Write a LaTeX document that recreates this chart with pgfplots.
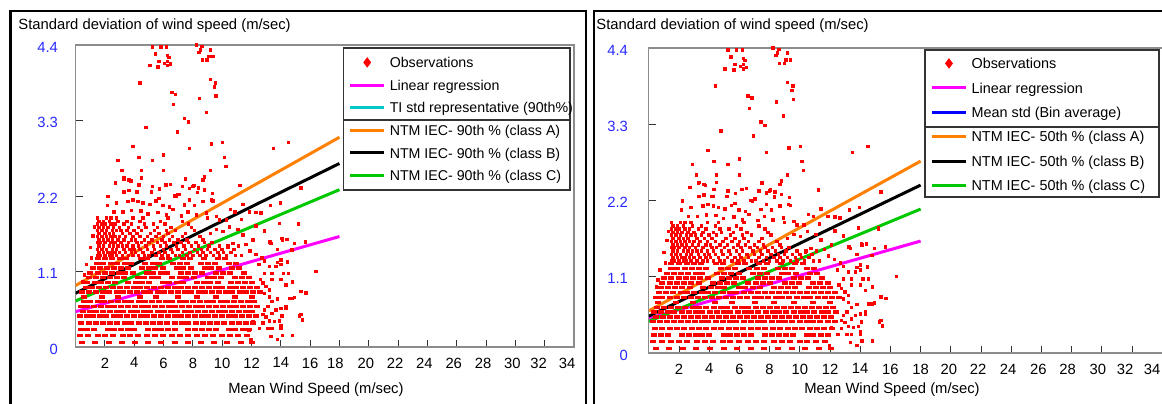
\documentclass[border=0pt]{standalone}
\usepackage{pgfplots}
\pgfplotsset{compat=1.18}
\usepackage{pgfplotstable}
\usepackage{fontspec}
\setmainfont{Liberation Sans}

\definecolor{ntmA}{RGB}{255,128,0}
\definecolor{ntmC}{RGB}{0,200,0}
\definecolor{regr}{RGB}{255,0,255}
\definecolor{obsred}{RGB}{255,0,0}
\definecolor{tickblue}{RGB}{40,40,255}
\definecolor{tiline}{RGB}{0,200,200}
\definecolor{binblue}{RGB}{0,0,255}

% observations drawn as short dashes (quantised rows at low std)
\pgfplotstableread[row sep=\\]{x y\\
0.45 .07\\1.35 .07\\2.25 .07\\3.15 .07\\4.05 .07\\4.95 .07\\5.85 .07\\6.75 .07\\7.65 .07\\8.55 .07\\9.45 .07\\10.35 .07\\11.25 .07\\12.05 .07\\
0.3 .17\\0.85 .17\\1.5 .17\\2.0 .17\\2.55 .17\\3.2 .17\\3.7 .17\\4.25 .17\\4.9 .17\\5.4 .17\\5.95 .17\\6.6 .17\\7.1 .17\\7.65 .17\\8.3 .17\\8.8 .17\\9.35 .17\\10.0 .17\\10.5 .17\\11.05 .17\\11.7 .17\\
0.35 .26\\0.8 .26\\1.25 .26\\2.2 .26\\2.65 .26\\3.1 .26\\3.55 .26\\4.0 .26\\4.95 .26\\5.4 .26\\5.85 .26\\6.3 .26\\6.8 .26\\7.7 .26\\8.15 .26\\8.6 .26\\9.1 .26\\9.55 .26\\10.45 .26\\10.9 .26\\11.4 .26\\11.85 .26\\
0.4 .35\\0.9 .35\\1.4 .35\\1.85 .35\\2.35 .35\\2.85 .35\\3.35 .35\\3.8 .35\\4.3 .35\\4.8 .35\\5.3 .35\\5.75 .35\\6.25 .35\\6.75 .35\\7.25 .35\\7.7 .35\\8.2 .35\\8.7 .35\\9.2 .35\\9.65 .35\\10.15 .35\\10.65 .35\\11.15 .35\\11.6 .35\\12.1 .35\\
0.3 .45\\0.75 .45\\1.2 .45\\1.65 .45\\2.1 .45\\2.6 .45\\3.05 .45\\3.5 .45\\3.95 .45\\4.45 .45\\4.9 .45\\5.35 .45\\5.8 .45\\6.3 .45\\6.75 .45\\7.2 .45\\7.65 .45\\8.15 .45\\8.6 .45\\9.05 .45\\9.5 .45\\10.0 .45\\10.45 .45\\10.9 .45\\11.35 .45\\11.85 .45\\12.3 .45\\
0.5 .52\\0.95 .52\\1.4 .52\\1.9 .52\\2.35 .52\\2.8 .52\\3.25 .52\\3.75 .52\\4.2 .52\\4.65 .52\\5.1 .52\\5.6 .52\\6.05 .52\\6.5 .52\\6.95 .52\\7.45 .52\\7.9 .52\\8.35 .52\\8.8 .52\\9.3 .52\\9.75 .52\\10.2 .52\\10.65 .52\\11.15 .52\\11.6 .52\\12.05 .52\\
0.35 .59\\0.8 .59\\1.25 .59\\1.7 .59\\2.2 .59\\2.65 .59\\3.1 .59\\3.55 .59\\4.05 .59\\4.5 .59\\4.95 .59\\5.4 .59\\5.9 .59\\6.35 .59\\6.8 .59\\7.25 .59\\7.75 .59\\8.2 .59\\8.65 .59\\9.1 .59\\9.6 .59\\10.05 .59\\10.5 .59\\10.95 .59\\11.45 .59\\11.9 .59\\12.4 .59\\
0.55 .66\\1.0 .66\\1.5 .66\\1.95 .66\\2.4 .66\\2.9 .66\\3.35 .66\\3.8 .66\\4.3 .66\\4.75 .66\\5.2 .66\\5.7 .66\\6.15 .66\\6.6 .66\\7.1 .66\\7.55 .66\\8.0 .66\\8.5 .66\\8.95 .66\\9.4 .66\\9.9 .66\\10.35 .66\\10.8 .66\\11.3 .66\\11.75 .66\\12.2 .66\\
0.6 .73\\1.8 .73\\2.9 .73\\4.4 .73\\5.5 .73\\7.0 .73\\8.3 .73\\9.6 .73\\10.9 .73\\12.0 .73\\
0.45 .80\\0.9 .80\\1.4 .80\\1.85 .80\\2.3 .80\\2.8 .80\\3.25 .80\\3.7 .80\\4.2 .80\\4.65 .80\\5.1 .80\\5.6 .80\\6.05 .80\\6.5 .80\\7.0 .80\\7.45 .80\\7.9 .80\\8.4 .80\\8.85 .80\\9.3 .80\\9.8 .80\\10.25 .80\\10.7 .80\\11.2 .80\\11.65 .80\\12.1 .80\\12.6 .80\\
0.7 .87\\1.15 .87\\1.6 .87\\2.1 .87\\2.55 .87\\3.0 .87\\3.5 .87\\3.95 .87\\4.4 .87\\4.9 .87\\5.35 .87\\5.8 .87\\6.3 .87\\6.75 .87\\7.2 .87\\7.7 .87\\8.15 .87\\8.6 .87\\9.1 .87\\9.55 .87\\10.0 .87\\10.5 .87\\10.95 .87\\11.4 .87\\11.9 .87\\12.35 .87\\
0.8 .94\\1.3 .94\\1.75 .94\\2.2 .94\\2.7 .94\\3.6 .94\\4.1 .94\\4.55 .94\\5.0 .94\\5.95 .94\\6.4 .94\\6.9 .94\\7.35 .94\\8.3 .94\\8.75 .94\\9.2 .94\\9.7 .94\\10.6 .94\\11.1 .94\\11.55 .94\\12.0 .94\\
0.9 1.01\\1.4 1.01\\1.85 1.01\\2.35 1.01\\2.8 1.01\\3.3 1.01\\4.25 1.01\\4.7 1.01\\5.2 1.01\\5.65 1.01\\6.6 1.01\\7.1 1.01\\7.55 1.01\\8.05 1.01\\9.0 1.01\\9.45 1.01\\9.95 1.01\\10.9 1.01\\11.35 1.01\\11.85 1.01\\
1.0 1.08\\1.5 1.08\\2.0 1.08\\2.45 1.08\\2.95 1.08\\3.4 1.08\\3.9 1.08\\4.85 1.08\\5.3 1.08\\5.8 1.08\\6.25 1.08\\7.2 1.08\\7.7 1.08\\8.15 1.08\\8.65 1.08\\9.6 1.08\\10.05 1.08\\10.55 1.08\\11.5 1.08\\
1.2 1.15\\1.65 1.15\\2.15 1.15\\2.6 1.15\\3.1 1.15\\3.55 1.15\\4.5 1.15\\5.0 1.15\\5.45 1.15\\5.95 1.15\\6.9 1.15\\7.35 1.15\\7.85 1.15\\8.8 1.15\\9.25 1.15\\9.75 1.15\\10.7 1.15\\11.15 1.15\\
1.45 1.22\\1.9 1.22\\2.4 1.22\\2.85 1.22\\3.35 1.22\\3.8 1.22\\4.75 1.22\\5.25 1.22\\5.7 1.22\\6.65 1.22\\7.15 1.22\\7.6 1.22\\8.55 1.22\\9.05 1.22\\9.5 1.22\\10.45 1.22\\10.95 1.22\\
1.5 1.29\\2.0 1.29\\2.5 1.29\\3.0 1.29\\3.45 1.29\\4.45 1.29\\4.9 1.29\\5.9 1.29\\6.35 1.29\\7.3 1.29\\7.8 1.29\\8.75 1.29\\9.7 1.29\\10.2 1.29\\
}\obsdash

% observations drawn as single dots
\pgfplotstableread[row sep=\\]{x y\\
5.24 4.37\\5.81 4.37\\6.2 4.37\\8.24 4.4\\8.62 4.38\\8.51 4.33\\8.42 4.29\\9.19 4.33\\5.45 4.27\\6.26 4.25\\6.38 4.22\\9.1 4.23\\9.37 4.23\\8.64 4.18\\8.98 4.18\\5.7 4.16\\6.26 4.16\\6.08 4.13\\6.47 4.12\\6.26 4.1\\5.06 4.1\\5.63 4.08\\
4.4 3.85\\9.19 3.9\\9.55 3.85\\9.48 3.79\\6.58 3.71\\6.83 3.68\\9.57 3.66\\8.44 3.62\\6.67 3.53\\8.92 3.42\\7.42 3.33\\7.71 3.28\\4.79 3.2\\6.94 3.13\\
3.93 2.92\\7.78 2.89\\9.28 2.96\\10.03 2.98\\13.5 2.89\\14.52 2.98\\4.31 2.76\\6.01 2.8\\10.14 2.76\\2.89 2.72\\5.24 2.72\\5.99 2.57\\10.25 2.63\\9.19 2.57\\3.16 2.57\\4.5 2.57\\
3.31 2.46\\2.73 2.39\\4.5 2.46\\4.31 2.36\\3.65 2.43\\3.29 2.45\\3.77 2.42\\4.2 2.26\\5.24 2.34\\6.17 2.36\\6.47 2.37\\7.49 2.45\\7.29 2.34\\7.78 2.31\\8.0 2.34\\8.07 2.35\\8.37 2.32\\8.69 2.43\\8.8 2.48\\6.78 2.2\\7.05 2.22\\11.23 2.35\\15.38 2.32\\2.22 2.19\\3.31 2.26\\3.65 2.28\\4.24 2.26\\5.17 2.26\\5.74 2.3\\6.99 2.22\\8.33 2.25\\8.8 2.29\\9.33 2.24\\9.26 2.14\\
2.8 2.1\\2.16 2.06\\3.59 2.12\\3.93 2.14\\4.27 2.12\\4.61 2.1\\5.06 2.08\\5.47 2.13\\5.7 2.16\\5.97 2.06\\6.42 2.04\\6.88 2.19\\7.44 2.07\\7.78 2.14\\8.12 2.06\\8.69 2.12\\9.37 2.13\\11.41 2.08\\13.29 2.06\\13.97 2.1\\
2.63 1.97\\3.24 1.97\\3.81 1.99\\4.45 1.98\\4.95 1.94\\5.63 1.96\\6.2 1.92\\6.65 2.0\\7.22 1.91\\7.67 1.97\\8.24 1.92\\8.92 1.95\\9.6 1.9\\10.57 2.0\\10.89 1.97\\11.86 1.97\\12.32 1.96\\12.66 1.95\\
9.82 1.85\\10.28 1.85\\11.3 1.86\\12.32 1.76\\12.88 1.69\\13.9 1.8\\15.22 1.8\\13.27 1.53\\14.09 1.58\\14.43 1.57\\15.67 1.53\\12.09 1.56\\11.41 1.63\\11.07 1.71\\10.5 1.75\\10.05 1.68\\9.6 1.71\\10.73 1.51\\11.64 1.49\\10.39 1.46\\14.13 1.56\\15.2 1.79\\14.77 1.41\\13.34 1.51\\13.79 1.42\\14.93 1.51\\
16.4 1.1\\15.38 0.81\\15.72 0.79\\14.81 0.71\\15.38 0.47\\15.49 0.39\\14.81 0.17\\14.13 0.17\\14.02 0.27\\14.36 0.59\\14.36 0.9\\14.02 0.98\\13.68 1.17\\14.02 1.27\\14.47 1.24\\13.41 1.07\\13.0 0.88\\13.22 0.73\\13.41 0.49\\13.56 0.37\\13.41 0.27\\13.34 0.15\\12.88 0.54\\13.0 0.44\\12.77 0.35\\
14.54 1.07\\14.18 1.07\\14.81 0.95\\14.59 0.71\\14.93 0.72\\14.36 0.56\\14.02 0.56\\15.27 0.45\\14.09 0.45\\13.9 0.38\\14.02 0.31\\13.79 0.11\\13.68 0.54\\13.41 0.66\\13.79 0.7\\13.22 0.83\\13.41 0.98\\12.88 1.07\\13.22 1.17\\13.79 1.23\\14.02 1.2\\12.77 0.93\\12.88 0.78\\13.11 0.59\\12.77 0.47\\13.22 0.38\\13.11 0.27\\12.54 0.27\\12.09 0.37\\11.82 0.25\\11.98 0.11\\12.5 1.2\\12.3 1.35\\12.7 1.3\\11.9 1.4\\12.6 0.98\\12.9 1.25\\
1.0 1.45\\1.2 1.62\\0.6 1.05\\0.75 1.2\\1.1 1.3\\0.5 0.95\\1.3 1.75\\
1.5 1.33\\1.7 1.33\\2.0 1.33\\2.3 1.33\\2.5 1.33\\2.8 1.33\\3.2 1.33\\3.6 1.33\\3.9 1.33\\4.3 1.33\\4.7 1.33\\5.0 1.33\\5.5 1.33\\5.9 1.33\\6.3 1.33\\6.8 1.33\\7.1 1.33\\7.6 1.33\\8.0 1.33\\8.5 1.33\\8.9 1.33\\9.4 1.33\\9.8 1.33\\10.3 1.33\\10.9 1.33\\11.3 1.33\\
1.6 1.38\\1.9 1.38\\2.2 1.38\\2.4 1.38\\2.7 1.38\\3.0 1.38\\3.4 1.38\\3.8 1.38\\4.1 1.38\\4.6 1.38\\5.2 1.38\\5.7 1.38\\6.1 1.38\\6.6 1.38\\7.3 1.38\\7.8 1.38\\8.3 1.38\\8.7 1.38\\9.2 1.38\\9.7 1.38\\10.1 1.38\\10.6 1.38\\
1.5 1.42\\1.8 1.42\\2.1 1.42\\2.5 1.42\\2.8 1.42\\3.3 1.42\\3.7 1.42\\4.0 1.42\\4.4 1.42\\4.9 1.42\\5.4 1.42\\6.0 1.42\\6.5 1.42\\7.0 1.42\\7.5 1.42\\8.1 1.42\\8.6 1.42\\9.0 1.42\\9.5 1.42\\10.0 1.42\\10.8 1.42\\
1.6 1.47\\1.9 1.47\\2.3 1.47\\2.6 1.47\\2.9 1.47\\3.2 1.47\\3.5 1.47\\3.9 1.47\\4.3 1.47\\4.8 1.47\\5.3 1.47\\5.8 1.47\\6.2 1.47\\6.9 1.47\\7.4 1.47\\7.9 1.47\\8.4 1.47\\9.1 1.47\\9.8 1.47\\10.4 1.47\\11.1 1.47\\
1.5 1.52\\1.7 1.52\\2.0 1.52\\2.4 1.52\\2.7 1.52\\3.1 1.52\\3.6 1.52\\4.2 1.52\\4.5 1.52\\5.0 1.52\\5.6 1.52\\6.1 1.52\\6.7 1.52\\7.2 1.52\\7.7 1.52\\8.2 1.52\\8.8 1.52\\9.3 1.52\\
1.6 1.56\\1.9 1.56\\2.2 1.56\\2.5 1.56\\2.9 1.56\\3.3 1.56\\3.8 1.56\\4.1 1.56\\4.7 1.56\\5.2 1.56\\5.9 1.56\\6.4 1.56\\7.0 1.56\\7.6 1.56\\8.7 1.56\\
1.5 1.61\\1.8 1.61\\2.1 1.61\\2.4 1.61\\2.7 1.61\\3.0 1.61\\3.4 1.61\\3.9 1.61\\4.4 1.61\\4.9 1.61\\5.5 1.61\\6.0 1.61\\6.6 1.61\\7.3 1.61\\8.5 1.61\\
1.6 1.65\\2.0 1.65\\2.3 1.65\\2.6 1.65\\3.2 1.65\\3.7 1.65\\4.2 1.65\\5.1 1.65\\5.7 1.65\\6.3 1.65\\7.5 1.65\\9.2 1.65\\
1.5 1.70\\1.8 1.70\\2.1 1.70\\2.5 1.70\\2.8 1.70\\3.1 1.70\\3.5 1.70\\4.0 1.70\\4.5 1.70\\5.4 1.70\\6.2 1.70\\6.8 1.70\\8.1 1.70\\
1.6 1.74\\1.9 1.74\\2.2 1.74\\2.6 1.74\\3.0 1.74\\3.6 1.74\\4.3 1.74\\4.8 1.74\\5.6 1.74\\6.5 1.74\\7.9 1.74\\
1.5 1.79\\1.8 1.79\\2.0 1.79\\2.4 1.79\\2.7 1.79\\3.3 1.79\\3.8 1.79\\4.7 1.79\\5.3 1.79\\6.1 1.79\\7.7 1.79\\
1.6 1.83\\1.9 1.83\\2.3 1.83\\2.9 1.83\\3.5 1.83\\4.4 1.83\\5.8 1.83\\7.3 1.83\\
1.5 1.88\\2.1 1.88\\2.4 1.88\\2.8 1.88\\3.9 1.88\\4.6 1.88\\6.3 1.88\\9.0 1.88\\
}\obsdot

\pgfplotsset{
  panel/.style={
    scale only axis, anchor=south west,
    xmin=0, xmax=34, ymin=0, ymax=4.4,
    xtick={2,4,6,8,10,12,14,16,18,20,22,24,26,28,30,32,34},
    ytick={0,1.1,2.2,3.3,4.4},
    yticklabels={0,1.1,2.2,3.3,4.4},
    tick align=inside, xtick pos=bottom, ytick pos=left,
    major tick length=3.5pt,
    tick style={black!80, line width=0.5pt},
    axis line style={black!45, line width=0.6pt},
    yticklabel style={text=tickblue},
    xticklabel style={yshift=-1.8pt},
    legend cell align=left,
  },
  obsdash/.style={only marks, mark=-, mark size=1.5pt, color=obsred,
    mark options={line width=1.65pt, draw=obsred}, forget plot},
  obsdot/.style={only marks, mark=square*, mark size=0.62pt, color=obsred,
    mark options={draw=obsred, fill=obsred, line width=0pt}, forget plot},
  fit/.style={line width=1.5pt, forget plot},
}

\begin{document}
\begin{tikzpicture}[font=\fontsize{7.4}{8.9}\selectfont]
\useasboundingbox (0,0) rectangle (581pt,201.5pt);

% ---- left panel: 90th percentile ----
\begin{axis}[panel,
  at={(37.8pt,28pt)}, width=249.2pt, height=151pt,
  xticklabels={2,4,6,8,10,12,14,16,\kern-4pt18,\kern-3pt20,\kern-3pt22,\kern-3pt24,\kern-3pt26,\kern-3pt28,\kern-3pt30,\kern-6pt32,\kern-7pt34},
  yticklabel style={xshift=-5.3pt, yshift=-1pt},
  legend style={at={(0.537,0.990)}, anchor=north west, draw=none, fill=none,
    inner xsep=2.5pt, inner ysep=1.35pt, row sep=0pt, column sep=2pt,
    font=\fontsize{7.1}{8.5}\selectfont,
    nodes={inner sep=0pt, text height=8.3pt, text depth=3pt}},
]
\addplot[obsdash] table {\obsdash};
\addplot[obsdot] table {\obsdot};
\addplot[fit, regr] coordinates {(0,0.515) (18,1.61)};
\addplot[fit, ntmC] coordinates {(0,0.672) (18,2.292)};
\addplot[fit, black] coordinates {(0,0.784) (18,2.674)};
\addplot[fit, ntmA] coordinates {(0,0.896) (18,3.056)};
\draw[black!80, line width=0.7pt, fill=white] (rel axis cs:0.537,0.990) rectangle (rel axis cs:0.992,0.520);
\draw[black!80, line width=0.7pt] (rel axis cs:0.537,0.752) -- (rel axis cs:0.992,0.752);
\addlegendimage{only marks, mark=diamond*, mark size=2.3pt, obsred}
\addlegendimage{regr, line width=1.5pt}
\addlegendimage{tiline, line width=1.5pt}
\addlegendimage{ntmA, line width=1.5pt}
\addlegendimage{black, line width=1.5pt}
\addlegendimage{ntmC, line width=1.5pt}
\legend{Observations, Linear regression, TI std representative (90th\%), NTM IEC- 90th \% (class A), NTM IEC- 90th \% (class B), NTM IEC- 90th \% (class C)}
\end{axis}

% ---- right panel: 50th percentile ----
\begin{axis}[panel,
  at={(324.4pt,25pt)}, width=256.7pt, height=152.5pt,
  xticklabels={2,4,6,8,10,12,14,16,18,\kern-2pt20,\kern-3pt22,\kern-3pt24,\kern-3pt26,\kern-4pt28,\kern-4pt30,\kern-7pt32,\kern-10pt34},
  yticklabel style={xshift=-6.9pt, yshift=-1pt},
  legend style={at={(0.538,0.9934)}, anchor=north west, draw=none, fill=none,
    inner xsep=2.5pt, inner ysep=0.4pt, row sep=0pt, column sep=2pt,
    font=\fontsize{7.2}{8.6}\selectfont,
    nodes={inner sep=0pt, text height=8.75pt, text depth=3.45pt}},
]
\addplot[obsdash] table {\obsdash};
\addplot[obsdot] table {\obsdot};
\addplot[fit, regr] coordinates {(0,0.5) (18,1.615)};
\addplot[fit, ntmC] coordinates {(0,0.456) (18,2.076)};
\addplot[fit, black] coordinates {(0,0.532) (18,2.422)};
\addplot[fit, ntmA] coordinates {(0,0.608) (18,2.768)};
\draw[black!80, line width=0.7pt, fill=white] (rel axis cs:0.538,0.9934) rectangle (rel axis cs:0.9935,0.5115);
\draw[black!80, line width=0.7pt] (rel axis cs:0.538,0.741) -- (rel axis cs:0.9935,0.741);
\addlegendimage{only marks, mark=diamond*, mark size=2.3pt, obsred}
\addlegendimage{regr, line width=1.5pt}
\addlegendimage{binblue, line width=1.5pt}
\addlegendimage{ntmA, line width=1.5pt}
\addlegendimage{black, line width=1.5pt}
\addlegendimage{ntmC, line width=1.5pt}
\legend{Observations, Linear regression, Mean std (Bin average), NTM IEC- 50th \% (class A), NTM IEC- 50th \% (class B), NTM IEC- 50th \% (class C)}
\end{axis}

% titles, axis names and panel frames
\node[anchor=base west, inner sep=0pt] at (9pt,187pt) {Standard deviation of wind speed (m/sec)};
\node[anchor=base west, inner sep=0pt] at (298pt,187pt) {Standard deviation of wind speed (m/sec)};
\node[anchor=base, inner sep=0pt] at (158pt,5pt) {Mean Wind Speed (m/sec)};
\node[anchor=base, inner sep=0pt] at (446pt,5pt) {Mean Wind Speed (m/sec)};
\draw[line width=1.4pt] (5.25pt,-3pt) -- (5.25pt,196pt) -- (293pt,196pt) -- (293pt,-3pt);
\draw[line width=1.3pt] (297pt,-3pt) -- (297pt,196pt) -- (590pt,196pt);
\end{tikzpicture}
\end{document}
